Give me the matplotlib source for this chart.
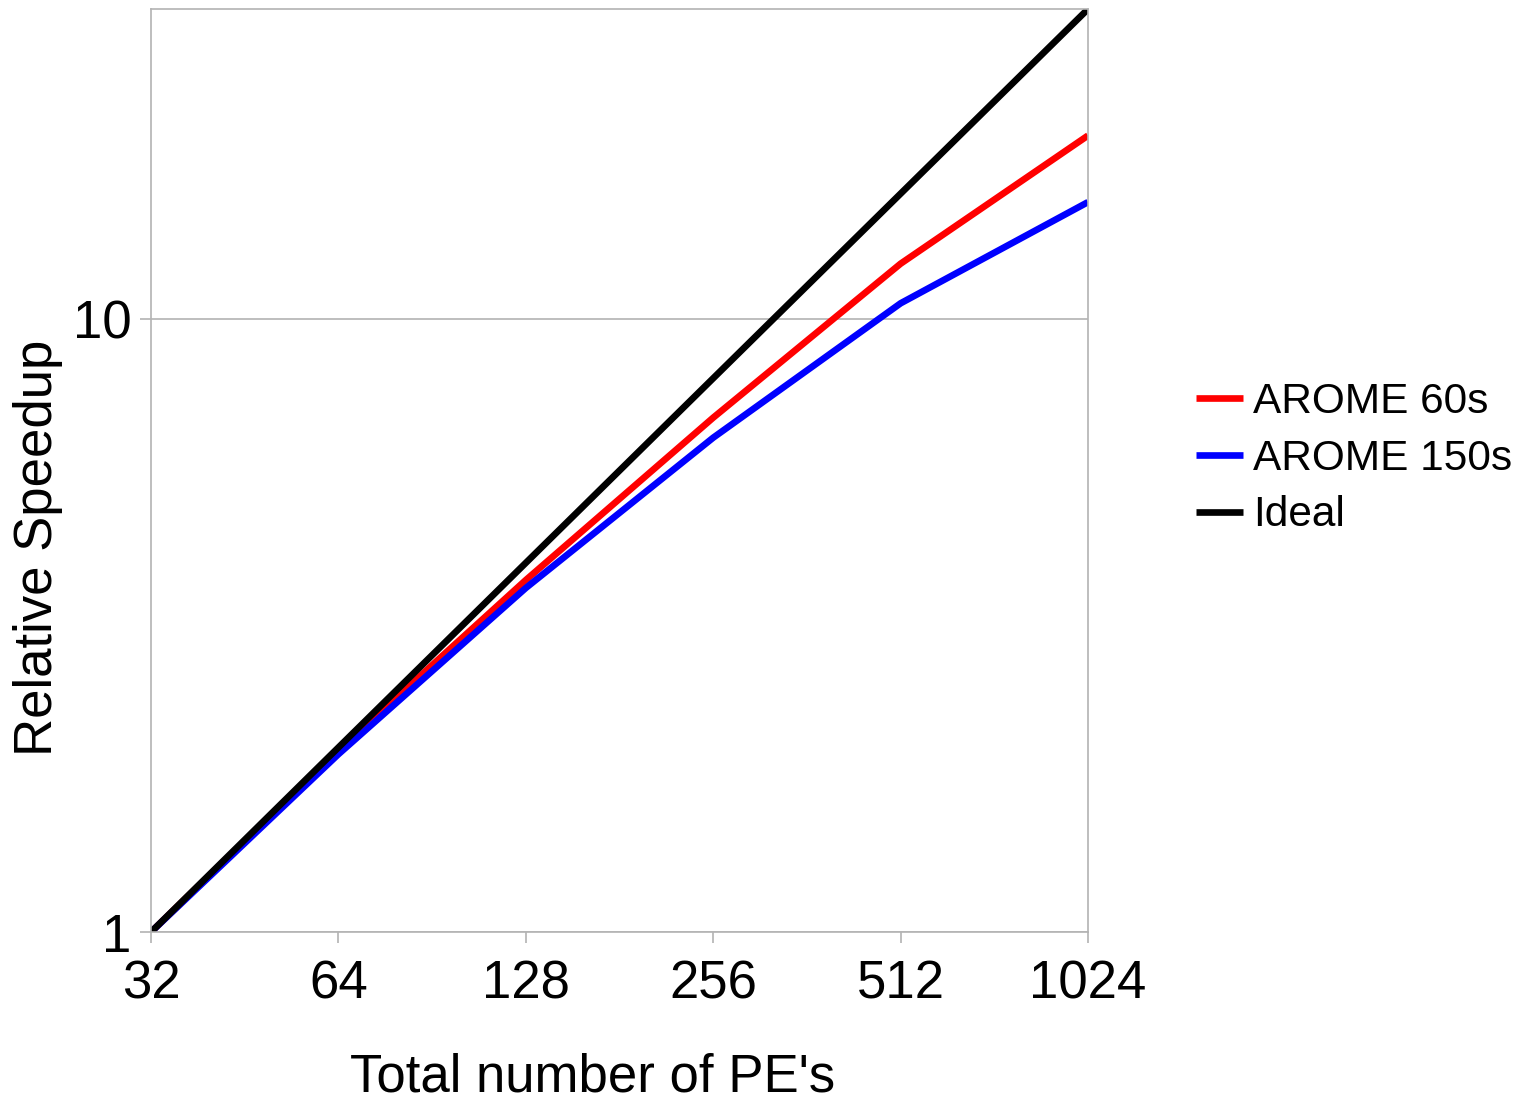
import matplotlib
matplotlib.use("Agg")
import matplotlib.pyplot as plt
from matplotlib.ticker import FixedLocator, NullLocator, FixedFormatter

plt.rcParams['font.family'] = ['Liberation Sans', 'DejaVu Sans']

# data
pes = [32, 64, 128, 256, 512, 1024]
arome_60s = [1.0, 1.98, 3.75, 6.9, 12.3, 19.9]
arome_150s = [1.0, 1.95, 3.64, 6.4, 10.6, 15.5]
ideal = [1, 2, 4, 8, 16, 32]
x_ticklabels = ['32', '64', '128', '256', '512', '1024']
y_ticks = [1, 10]
y_ticklabels = ['1', '10']

fig = plt.figure(figsize=(15.26, 11.0), dpi=100)
ax = fig.add_axes([0.099, 0.1527, 0.614, 0.8391])

ax.plot(pes, arome_60s, color='#ff0000', lw=4.8, label='AROME 60s', solid_capstyle='butt')
ax.plot(pes, arome_150s, color='#0000ff', lw=4.8, label='AROME 150s', solid_capstyle='butt')
ax.plot(pes, ideal, color='black', lw=4.8, label='Ideal', solid_capstyle='butt')

ax.set_xscale('log')
ax.set_yscale('log')
ax.set_xlim(32, 1024)
ax.set_ylim(1, 32)

ax.xaxis.set_major_locator(FixedLocator(pes))
ax.xaxis.set_major_formatter(FixedFormatter(x_ticklabels))
ax.xaxis.set_minor_locator(NullLocator())
ax.yaxis.set_major_locator(FixedLocator(y_ticks))
ax.yaxis.set_major_formatter(FixedFormatter(y_ticklabels))
ax.yaxis.set_minor_locator(NullLocator())

ax.grid(axis='y', which='major', color='#b3b3b3', lw=1.2)
for s in ax.spines.values():
    s.set_color('#b3b3b3')
    s.set_linewidth(1.2)
ax.tick_params(axis='both', which='major', length=8, width=1.2, color='#b3b3b3',
               labelsize=38, direction='out')
ax.tick_params(axis='y', pad=6)
ax.tick_params(axis='x', pad=12)

ax.set_xlabel("Total number of PE's", fontsize=38, va='center')
ax.xaxis.set_label_coords(0.4717, -0.158)
ax.set_ylabel('Relative Speedup', fontsize=38, va='center')
ax.yaxis.set_label_coords(-0.1206, 0.416)

ax.legend(loc='center left', bbox_to_anchor=(1.0747, 0.513), frameon=False,
          fontsize=30.5, handlelength=1.1, handletextpad=0.25, labelspacing=0.4)

fig.savefig('out.png', dpi=100, facecolor='white')
